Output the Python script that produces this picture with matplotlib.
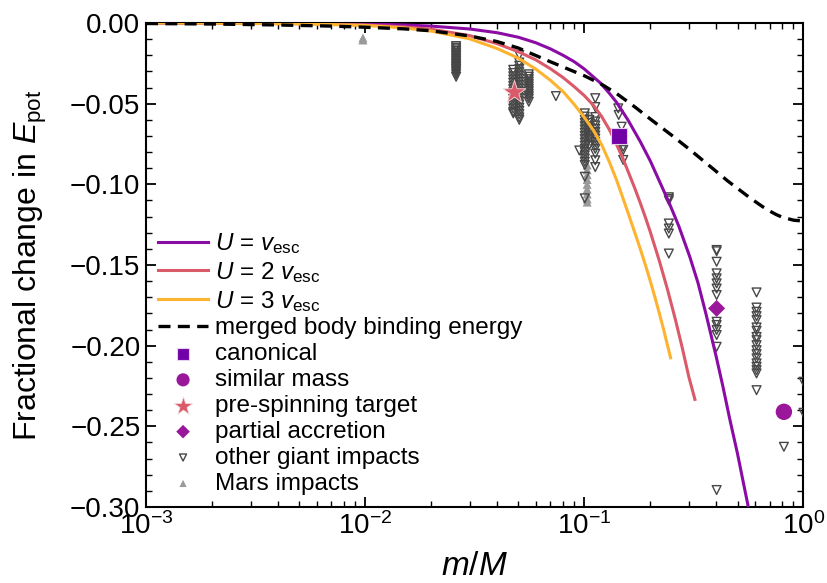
import matplotlib
matplotlib.use("Agg")
import matplotlib.pyplot as plt
import numpy as np

plt.rcParams['font.family'] = ['Liberation Sans', 'DejaVu Sans']
plt.rcParams['mathtext.fontset'] = 'custom'
plt.rcParams['mathtext.rm'] = 'Liberation Sans'
plt.rcParams['mathtext.it'] = 'Liberation Sans:italic'
plt.rcParams['mathtext.bf'] = 'Liberation Sans:bold'

# ---------------- data ----------------
# U = v_esc curve
q_v1 = [0.001, 0.002, 0.005, 0.01, 0.015, 0.02, 0.03, 0.04, 0.05, 0.06, 0.07, 0.08, 0.09, 0.10,
        0.118, 0.13, 0.14, 0.158, 0.18, 0.20, 0.22, 0.243, 0.27, 0.303, 0.33, 0.36, 0.40, 0.43,
        0.46, 0.50, 0.56]
e_v1 = [0.0, -0.00003, -0.0002, -0.0006, -0.0012, -0.0019, -0.0037, -0.006, -0.0088, -0.0122,
        -0.016, -0.020, -0.024, -0.0285, -0.037, -0.0435, -0.049, -0.060, -0.0735, -0.0855,
        -0.098, -0.111, -0.126, -0.145, -0.161, -0.181, -0.207, -0.226, -0.245, -0.267, -0.300]
# U = 2 v_esc curve
q_v2 = [0.001, 0.002, 0.005, 0.01, 0.015, 0.02, 0.03, 0.04, 0.05, 0.06, 0.07, 0.08, 0.09, 0.10,
        0.11, 0.12, 0.13, 0.14, 0.15, 0.16, 0.17, 0.18, 0.19, 0.20, 0.22, 0.24, 0.26, 0.28,
        0.30, 0.3196]
e_v2 = [0.0, -0.0001, -0.0004, -0.0012, -0.0024, -0.0038, -0.0078, -0.0128, -0.0178, -0.0228,
        -0.0283, -0.0338, -0.0395, -0.045, -0.051, -0.058, -0.066, -0.075, -0.084, -0.0935,
        -0.1025, -0.1115, -0.1205, -0.1295, -0.1475, -0.1655, -0.1835, -0.2015, -0.2195, -0.2333]
# U = 3 v_esc curve
q_v3 = [0.001, 0.002, 0.005, 0.01, 0.015, 0.02, 0.03, 0.04, 0.05, 0.06, 0.07, 0.08, 0.09, 0.10,
        0.11, 0.12, 0.13, 0.14, 0.15, 0.16, 0.17, 0.18, 0.19, 0.20, 0.21, 0.22, 0.23, 0.2475]
e_v3 = [0.0, -0.0001, -0.0005, -0.0015, -0.003, -0.005, -0.0098, -0.0158, -0.0218, -0.0285,
        -0.0355, -0.0425, -0.0505, -0.0585, -0.0665, -0.0755, -0.086, -0.097, -0.1085, -0.1195,
        -0.130, -0.140, -0.150, -0.160, -0.170, -0.180, -0.190, -0.2075]
# merged body binding energy
q_bind = [0.001, 0.002, 0.004, 0.007, 0.01, 0.015, 0.02, 0.03, 0.04, 0.05, 0.07, 0.1, 0.12, 0.14,
          0.17, 0.2, 0.25, 0.3, 0.35, 0.4, 0.45, 0.5, 0.55, 0.6, 0.65, 0.7, 0.75, 0.8, 0.9, 1.0]
e_bind = [-0.0003, -0.0006, -0.0012, -0.0019, -0.0026, -0.0036, -0.0048, -0.0080, -0.0115,
          -0.0155, -0.024, -0.0327, -0.038, -0.0436, -0.052, -0.0595, -0.0695, -0.078, -0.0855,
          -0.092, -0.0978, -0.1025, -0.1068, -0.1105, -0.1138, -0.1165, -0.1187, -0.1204,
          -0.1222, -0.1228]

# special simulations
canon_q, canon_e = [0.1438], [-0.0698]
simmass_q, simmass_e = [0.814], [-0.241]
spin_q, spin_e = [0.0478], [-0.0428]
partial_q, partial_e = [0.4015], [-0.1769]

# other giant impacts (grouped by column)
colA_e = [-0.0143, -0.0153, -0.0163, -0.0173, -0.0183, -0.0193, -0.0203, -0.0213, -0.0223,
          -0.0233, -0.0243, -0.0253, -0.0263, -0.0273, -0.0283, -0.0293, -0.0305, -0.0318, -0.0333]
colB1_e = [-0.0198, -0.0245, -0.0265, -0.0285, -0.0305, -0.0325, -0.0345, -0.0365, -0.0385,
           -0.0405, -0.0425, -0.0445, -0.0465, -0.0485, -0.0505, -0.0525, -0.0545, -0.0565,
           -0.0585, -0.060]
colB2_e = [-0.029, -0.031, -0.033, -0.035, -0.037, -0.039, -0.041, -0.043, -0.045, -0.047,
           -0.049, -0.051, -0.053, -0.055, -0.056]
colC_e = [-0.0318, -0.0333, -0.0348, -0.0363, -0.0378, -0.0393, -0.0408, -0.0423, -0.0438,
          -0.0453, -0.0468, -0.0488]
colD1_e = [-0.056, -0.058, -0.060, -0.062, -0.064, -0.066, -0.068, -0.070, -0.072, -0.074,
           -0.076, -0.078, -0.080, -0.082, -0.084, -0.086, -0.088, -0.0953, -0.1087]
colD2_e = [-0.060, -0.062, -0.064, -0.066, -0.068, -0.070, -0.072, -0.0756]
colD3_e = [-0.0466, -0.0521, -0.0583, -0.0610, -0.0635, -0.0656, -0.0676, -0.0697, -0.0717,
           -0.0738, -0.0759, -0.078, -0.081, -0.0851, -0.0893]
colE_e = [-0.0529, -0.057, -0.0643, -0.0767, -0.0787, -0.0849]
colE_q = [0.1428, 0.1435, 0.148, 0.1505, 0.1505, 0.1505]
colF_e = [-0.108, -0.109, -0.110, -0.1243, -0.1274, -0.1305, -0.1429]
colG_e = [-0.1407, -0.1415, -0.148, -0.1552, -0.1583, -0.1614, -0.1646, -0.1686, -0.1852,
          -0.1872, -0.1903, -0.1934, -0.2007, -0.2895]
colH_e = [-0.167, -0.1764, -0.179, -0.1817, -0.1842, -0.1887, -0.1908, -0.1946, -0.1966,
          -0.1997, -0.2028, -0.2053, -0.2079, -0.211, -0.2131, -0.2152, -0.2172, -0.2276]
single_q = [0.0742, 0.0949, 0.814, 1.0, 1.0]
single_e = [-0.0453, -0.079, -0.2627, -0.2224, -0.2416]

other_q = ([0.026] * len(colA_e) + [0.0505] * len(colB1_e) + [0.0474] * len(colB2_e)
           + [0.0558] * len(colC_e) + [0.1005] * len(colD1_e) + [0.1053] * len(colD2_e)
           + [0.1122] * len(colD3_e) + colE_q + [0.243] * len(colF_e)
           + [0.4015] * len(colG_e) + [0.6107] * len(colH_e) + single_q)
other_e = (colA_e + colB1_e + colB2_e + colC_e + colD1_e + colD2_e + colD3_e + colE_e
           + colF_e + colG_e + colH_e + single_e)

# Mars impacts
mars_q = [0.00977, 0.00977] + [0.103] * 9
mars_e = [-0.0092, -0.0105] + [-0.088, -0.091, -0.094, -0.097, -0.100, -0.103, -0.106, -0.109, -0.111]

labels = [r'$U$ = $v_\mathrm{esc}$', r'$U$ = 2 $v_\mathrm{esc}$', r'$U$ = 3 $v_\mathrm{esc}$',
          'merged body binding energy', 'canonical', 'similar mass', 'pre-spinning target',
          'partial accretion', 'other giant impacts', 'Mars impacts']

# ---------------- plotting ----------------
c_v1 = '#8a0ca4'
c_v2 = '#da5a6a'
c_v3 = '#fdb32f'
c_sq = '#7201a8'
c_ci = '#9a179b'

fig = plt.figure(figsize=(8.28, 5.83), dpi=100)
ax = fig.add_axes([0.1763, 0.1304, 0.7941, 0.8301])

ax.scatter(mars_q, mars_e, marker='^', s=42, color='#9a9a9a', edgecolors='none', zorder=2,
           label=labels[9])
ax.scatter(other_q, other_e, marker='v', s=40, facecolors='none', edgecolors='#474747',
           linewidths=1.0, zorder=3, label=labels[8])

ax.plot(q_v1, e_v1, color=c_v1, lw=2.2, zorder=4, label=labels[0])
ax.plot(q_v2, e_v2, color=c_v2, lw=2.2, zorder=4, label=labels[1])
ax.plot(q_v3, e_v3, color=c_v3, lw=2.2, zorder=4, label=labels[2])
ax.plot(q_bind, e_bind, color='black', lw=2.4, ls=(0, (3.6, 2.2)), zorder=4, label=labels[3])

ax.scatter(canon_q, canon_e, marker='s', s=130, color=c_sq, edgecolors='#e6d2ee',
           linewidths=0.8, zorder=5, label=labels[4])
ax.scatter(simmass_q, simmass_e, marker='o', s=140, color=c_ci, edgecolors='none', zorder=5,
           label=labels[5])
ax.scatter(spin_q, spin_e, marker='*', s=300, color=c_v2, edgecolors='#f4dce0',
           linewidths=0.6, zorder=5, label=labels[6])
ax.scatter(partial_q, partial_e, marker='D', s=75, color=c_ci, edgecolors='none', zorder=5,
           label=labels[7])

ax.set_xscale('log')
ax.set_xlim(1e-3, 1.0)
ax.set_ylim(-0.30, 0.0)
yt = np.arange(-0.30, 0.001, 0.05)
ax.set_yticks(yt)
ax.set_yticks(np.arange(-0.30, 0.001, 0.01), minor=True)
ax.set_yticklabels([('\u2212' + f'{abs(v):.2f}') if v < -1e-9 else '0.00' for v in yt])
ax.tick_params(which='both', direction='in', top=True, right=True, labelsize=20)
ax.tick_params(which='major', length=7, width=1.3, pad=4)
ax.tick_params(which='minor', length=4, width=1.0)
for s in ax.spines.values():
    s.set_linewidth(1.5)

ax.set_xlabel(r'$m/M$', fontsize=24, labelpad=8)
ax.set_ylabel(r'Fractional change in $E_\mathrm{pot}$', fontsize=23, labelpad=15)

handles, labs = ax.get_legend_handles_labels()
order = [labels.index(l) for l in labs]
hl = sorted(zip(order, handles, labs), key=lambda t: t[0])
leg = ax.legend([h for _, h, _ in hl], [l for _, _, l in hl], loc='lower left', frameon=False,
                fontsize=17.5, handlelength=2.05, handletextpad=0.3, labelspacing=0.16,
                borderaxespad=0.4, borderpad=0.1, scatterpoints=1, markerscale=0.8)

fig.savefig('out.png', dpi=100)
